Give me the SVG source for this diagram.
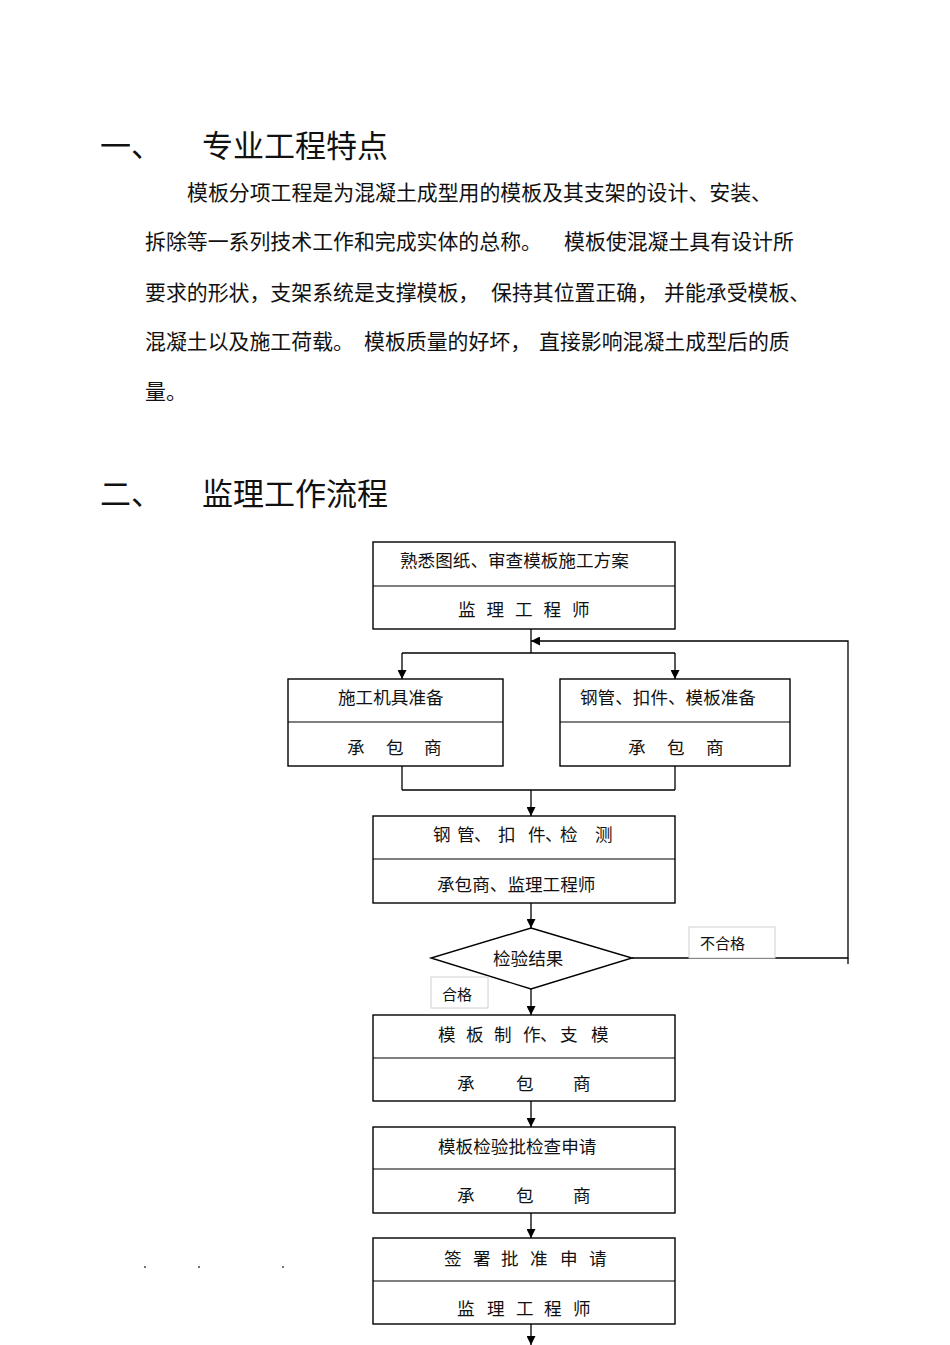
<svg xmlns="http://www.w3.org/2000/svg" width="950" height="1345" viewBox="0 0 950 1345">
<defs>
<style>
.h{font-family:"Noto Sans CJK SC","Noto Sans",sans-serif;font-size:31px;fill:#111}
.p{font-family:"Noto Sans CJK SC","Noto Sans",sans-serif;font-size:20.9px;fill:#111}
.t{font-family:"Noto Sans CJK SC","Noto Sans",sans-serif;font-size:17.6px;fill:#111}
.s{font-family:"Noto Sans CJK SC","Noto Sans",sans-serif;font-size:15px;fill:#111}
.box{fill:#fff;stroke:#000;stroke-width:1.4}
.div{stroke:#000;stroke-width:1.2}
.ln{fill:none;stroke:#000;stroke-width:1.3}
.lab{fill:#fff;stroke:#d0d0d0;stroke-width:1}
</style>
<marker id="ah" viewBox="0 0 10 10" refX="10" refY="5" markerWidth="9" markerHeight="9" markerUnits="userSpaceOnUse" orient="auto">
<path d="M0,0 L10,5 L0,10 z" fill="#000"/>
</marker>
</defs>
<rect width="950" height="1345" fill="#fff"/>

<g id="heading1">
<text class="h" x="100" y="157">一、</text>
<text class="h" x="202" y="157">专业工程特点</text>
</g>
<g id="paragraph">
<text class="p" x="187" y="200">模板分项工程是为混凝土成型用的模板及其支架的设计、安装、</text>
<text class="p" x="145" y="249">拆除等一系列技术工作和完成实体的总称。</text>
<text class="p" x="564" y="249">模板使混凝土具有设计所</text>
<text class="p" x="145" y="300">要求的形状，支架系统是支撑模板，</text>
<text class="p" x="491" y="300">保持其位置正确，</text>
<text class="p" x="664" y="300">并能承受模板、</text>
<text class="p" x="145" y="349">混凝土以及施工荷载。</text>
<text class="p" x="364" y="349">模板质量的好坏，</text>
<text class="p" x="539" y="349">直接影响混凝土成型后的质</text>
<text class="p" x="145" y="399">量。</text>
</g>
<g id="heading2">
<text class="h" x="100" y="505">二、</text>
<text class="h" x="202" y="505">监理工作流程</text>
</g>

<g id="connectors">
<line class="ln" x1="531" y1="629" x2="531" y2="653"/>
<line class="ln" x1="402" y1="653" x2="675" y2="653"/>
<line class="ln" x1="402" y1="653" x2="402" y2="679" marker-end="url(#ah)"/>
<line class="ln" x1="675" y1="653" x2="675" y2="679" marker-end="url(#ah)"/>
<line class="ln" x1="402" y1="766" x2="402" y2="790"/>
<line class="ln" x1="675" y1="766" x2="675" y2="790"/>
<line class="ln" x1="402" y1="790" x2="675" y2="790"/>
<line class="ln" x1="531" y1="790" x2="531" y2="816" marker-end="url(#ah)"/>
<line class="ln" x1="531" y1="903" x2="531" y2="928" marker-end="url(#ah)"/>
<polyline class="ln" points="632,958 848,958 848,641 531,641" marker-end="url(#ah)"/>
<line class="ln" x1="848" y1="958" x2="848" y2="964"/>
<line class="ln" x1="531" y1="989" x2="531" y2="1015" marker-end="url(#ah)"/>
<line class="ln" x1="531" y1="1101" x2="531" y2="1127" marker-end="url(#ah)"/>
<line class="ln" x1="531" y1="1213" x2="531" y2="1238" marker-end="url(#ah)"/>
<line class="ln" x1="531" y1="1324" x2="531" y2="1345" marker-end="url(#ah)"/>
</g>

<g id="node1">
<rect class="box" x="373" y="542" width="302" height="87"/>
<line class="div" x1="373" y1="586" x2="675" y2="586"/>
<text class="t" x="400" y="567">熟悉图纸、审查模板施工方案</text>
<text class="t" x="458 486.5 515 543.5 572" y="616">监理工程师</text>
</g>
<g id="node2">
<rect class="box" x="288" y="679" width="215" height="87"/>
<line class="div" x1="288" y1="722" x2="503" y2="722"/>
<text class="t" x="338" y="704">施工机具准备</text>
<text class="t" x="347 386 424" y="754">承包商</text>
</g>
<g id="node3">
<rect class="box" x="560" y="679" width="230" height="87"/>
<line class="div" x1="560" y1="722" x2="790" y2="722"/>
<text class="t" x="580" y="704">钢管、扣件、模板准备</text>
<text class="t" x="628 667 706" y="754">承包商</text>
</g>
<g id="node4">
<rect class="box" x="373" y="816" width="302" height="87"/>
<line class="div" x1="373" y1="859" x2="675" y2="859"/>
<text class="t" x="433 457 474 498 528 545 560 595" y="841">钢管、扣件、检测</text>
<text class="t" x="437" y="891">承包商、监理工程师</text>
</g>
<g id="decision">
<polygon class="box" points="531,928 632,958 531,989 431,958"/>
<text class="t" x="493" y="965">检验结果</text>
</g>
<g id="label-fail">
<rect class="lab" x="689" y="927" width="86" height="31"/>
<text class="s" x="700" y="949">不合格</text>
</g>
<g id="label-pass">
<rect class="lab" x="431" y="977" width="57" height="31"/>
<text class="s" x="442" y="1000">合格</text>
</g>
<g id="node5">
<rect class="box" x="373" y="1015" width="302" height="86"/>
<line class="div" x1="373" y1="1058" x2="675" y2="1058"/>
<text class="t" x="438 466 494 523 540 560 591" y="1041">模板制作、支模</text>
<text class="t" x="457 516 573" y="1090">承包商</text>
</g>
<g id="node6">
<rect class="box" x="373" y="1127" width="302" height="86"/>
<line class="div" x1="373" y1="1169" x2="675" y2="1169"/>
<text class="t" x="438" y="1153">模板检验批检查申请</text>
<text class="t" x="457 516 573" y="1202">承包商</text>
</g>
<g id="node7">
<rect class="box" x="373" y="1238" width="302" height="86"/>
<line class="div" x1="373" y1="1281" x2="675" y2="1281"/>
<text class="t" x="444 473 501 530 560 589" y="1265">签署批准申请</text>
<text class="t" x="457 487 516 544 573" y="1315">监理工程师</text>
</g>
<g id="dots" fill="#333">
<circle cx="145" cy="1267" r="0.9"/>
<circle cx="199" cy="1267" r="0.9"/>
<circle cx="283" cy="1267" r="0.9"/>
</g>
</svg>
